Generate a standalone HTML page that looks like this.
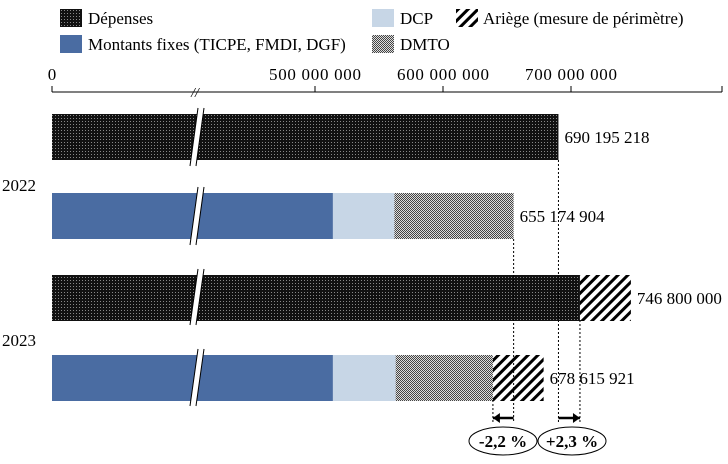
<!DOCTYPE html>
<html><head><meta charset="utf-8">
<style>
body{margin:0;background:#fff;}
svg{display:block;font-family:"Liberation Serif",serif;}
</style></head>
<body>
<svg id="chart" width="728" height="464" viewBox="0 0 728 464">
<defs>
<pattern id="pDep" width="3" height="3" patternUnits="userSpaceOnUse"><rect width="3" height="3" fill="#111"/><rect x="1" y="1" width="1" height="1" fill="#888"/></pattern>
<pattern id="pDmto" width="2" height="2" patternUnits="userSpaceOnUse"><rect width="2" height="2" fill="#ddd"/><rect width="1" height="1" fill="#444"/><rect x="1" y="1" width="1" height="1" fill="#444"/></pattern>
<pattern id="pHatch" width="7" height="7" patternUnits="userSpaceOnUse" patternTransform="rotate(45)"><rect width="7" height="7" fill="#fff"/><rect width="3" height="7" fill="#000"/></pattern>
</defs>
<g>
<rect x="60" y="9" width="22" height="18" fill="url(#pDep)"/>
<text x="88" y="24" font-size="17">Dépenses</text>
<rect x="60" y="35" width="22" height="18" fill="#4a6ca2"/>
<text x="88" y="50" font-size="17">Montants fixes (TICPE, FMDI, DGF)</text>
<rect x="372" y="9" width="22" height="18" fill="#c7d6e6"/>
<text x="400" y="24" font-size="17">DCP</text>
<rect x="456" y="9" width="22" height="18" fill="url(#pHatch)"/>
<text x="483" y="24" font-size="17">Ariège (mesure de périmètre)</text>
<rect x="372" y="35" width="22" height="18" fill="url(#pDmto)"/>
<text x="400" y="50" font-size="17">DMTO</text>
</g>
<g id="axis"></g>
<g id="bars"></g>
<g id="ann"></g>
</svg>
<script>
const years = ["2022", "2023"];
const depenses = [690195218, 707000000];
const ariegeDep = [0, 39800000];
const montantsFixes = [514000000, 514000000];
const dcp = [48000000, 49000000];
const dmto = [93174904, 76000000];
const ariegeRec = [0, 39615921];
const depLabels = ["690 195 218", "746 800 000"];
const recLabels = ["655 174 904", "678 615 921"];
const tickValues = [500000000, 600000000, 700000000];
const tickLabels = ["500 000 000", "600 000 000", "700 000 000"];
const pctLabels = ["-2,2 %", "+2,3 %"];

const NS = "http://www.w3.org/2000/svg";
const X0 = 52;
function x(v){ return v <= 0 ? X0 : 315 + (v - 500000000) * 128 / 100000000; }
function mk(tag, attrs, parent, text){
  const e = document.createElementNS(NS, tag);
  for (const k in attrs) e.setAttribute(k, attrs[k]);
  if (text !== undefined) e.textContent = text;
  parent.appendChild(e); return e;
}
const axis = document.getElementById('axis');
const bars = document.getElementById('bars');
const ann = document.getElementById('ann');

let el = mk('line', {x1:X0, y1:92, x2:722, y2:92, stroke:'#000', 'stroke-width':1}, axis);


mk('line', {x1:X0, y1:86, x2:X0, y2:92, stroke:'#000'}, axis);
mk('line', {x1:722, y1:86, x2:722, y2:92, stroke:'#000'}, axis);
el = mk('text', {x:X0, y:80, 'font-size':17, 'text-anchor':'middle'}, axis, '0');


tickValues.forEach((v, i) => {
  mk('line', {x1:x(v), y1:86, x2:x(v), y2:92, stroke:'#000'}, axis);
  const t = mk('text', {x:x(v), y:80, 'font-size':17, 'text-anchor':'middle', textLength:92}, axis, tickLabels[i]);
  
  
});
el = mk('text', {x:195, y:97, 'font-size':14, 'text-anchor':'middle', 'font-style':'italic'}, axis, '//');



const depY = [114, 275], recY = [193, 355], H = 46;
const yearY = [191, 346];
years.forEach((yr, i) => {
  const t = mk('text', {x:2, y:yearY[i], 'font-size':17}, bars, yr);
  
  
  let r = mk('rect', {x:X0, y:depY[i], width:x(depenses[i]) - X0, height:H, fill:'url(#pDep)'}, bars);
  
  
  let end = depenses[i];
  if (ariegeDep[i] > 0) {
    r = mk('rect', {x:x(end), y:depY[i], width:x(end + ariegeDep[i]) - x(end), height:H, fill:'url(#pHatch)'}, bars);
    
    
    end += ariegeDep[i];
  }
  const lt = mk('text', {x:x(end) + 6, y:depY[i] + 29, 'font-size':17}, bars, depLabels[i]);
  
  
  const segs = [[montantsFixes[i], '#4a6ca2', 'montants'], [dcp[i], '#c7d6e6', 'dcp'], [dmto[i], 'url(#pDmto)', 'dmto'], [ariegeRec[i], 'url(#pHatch)', 'ariege']];
  let acc = 0;
  segs.forEach(s => {
    if (s[0] <= 0) return;
    const xa = x(acc), xb = x(acc + s[0]);
    const rr = mk('rect', {x:xa, y:recY[i], width:xb - xa, height:H, fill:s[1]}, bars);
    
    
    acc += s[0];
  });
  const rt = mk('text', {x:x(acc) + 6, y:recY[i] + 29, 'font-size':17}, bars, recLabels[i]);
  
  
});
[[108, 166], [187, 245], [269, 325], [349, 406]].forEach(b => {
  mk('path', {d:`M${193},${b[1]} L${201},${b[0]}`, stroke:'#fff', 'stroke-width':6, fill:'none'}, bars);
  mk('path', {d:`M${190},${b[1]} L${198},${b[0]}`, stroke:'#000', 'stroke-width':1, fill:'none'}, bars);
  mk('path', {d:`M${196},${b[1]} L${204},${b[0]}`, stroke:'#000', 'stroke-width':1, fill:'none'}, bars);
});
const rec2022 = montantsFixes[0] + dcp[0] + dmto[0];
const rec2023 = montantsFixes[1] + dcp[1] + dmto[1] + ariegeRec[1];
const dep2023 = depenses[1];
[[x(depenses[0]), 160], [x(rec2022), 239], [x(rec2023 - ariegeRec[1]), 400], [x(dep2023), 320]].forEach(g => {
  mk('line', {x1:g[0], y1:g[1], x2:g[0], y2:422, stroke:'#000', 'stroke-width':1, 'stroke-dasharray':'2,2'}, ann);
});
function arrow(xf, xt){
  mk('line', {x1:xf, y1:418, x2:xt, y2:418, stroke:'#000', 'stroke-width':2.5}, ann);
  const d = xt > xf ? -1 : 1;
  mk('path', {d:`M${xt},418 L${xt + d*7},413 L${xt + d*7},423 Z`, fill:'#000'}, ann);
}
arrow(x(rec2022), x(rec2023 - ariegeRec[1]));
arrow(x(depenses[0]), x(dep2023));
[[503, pctLabels[0]], [572, pctLabels[1]]].forEach((p, i) => {
  const e = mk('ellipse', {cx:p[0], cy:441, rx:34, ry:14, fill:'#fff', stroke:'#000'}, ann);
  
  
  const t = mk('text', {x:p[0], y:447, 'font-size':17, 'text-anchor':'middle', 'font-weight':'bold'}, ann, p[1]);
  
  
});
</script>
</body></html>
